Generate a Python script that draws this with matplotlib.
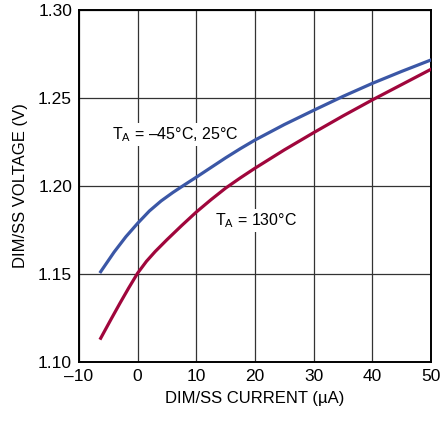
import matplotlib
matplotlib.use('Agg')
import matplotlib.pyplot as plt

plt.rcParams['font.family'] = ['Liberation Sans', 'DejaVu Sans']
plt.rcParams['mathtext.fontset'] = 'custom'
plt.rcParams['mathtext.rm'] = 'Liberation Sans'

# ток DIM/SS (мкА) и напряжение (В), T = -45/25 и 130 градусов
current_cold = [-6.3, -4, -2, 0, 2, 4, 6, 8, 10, 12.5, 15, 17.5, 20, 25, 30, 35, 40, 45, 50]
voltage_cold = [1.1513, 1.1625, 1.1712, 1.1788, 1.1858, 1.1915, 1.1963, 1.2007, 1.2050,
                1.2105, 1.2160, 1.2212, 1.2261, 1.2349, 1.2430, 1.2509, 1.2583, 1.2651, 1.2716]

current_hot = [-6.3, -4.5, -3, -1.5, 0, 1.5, 3, 5, 7.5, 10, 12.5, 15, 17.5, 20,
               25, 30, 35, 40, 45, 50]
voltage_hot = [1.1135, 1.1245, 1.1335, 1.1422, 1.1505, 1.1572, 1.1628, 1.1695, 1.1775,
               1.1852, 1.1922, 1.1988, 1.2046, 1.2101, 1.2205, 1.2303, 1.2398, 1.2489,
               1.2576, 1.2663]

xticks = [-10, 0, 10, 20, 30, 40, 50]
xtick_labels = ['\u201310', '0', '10', '20', '30', '40', '50']
yticks = [1.10, 1.15, 1.20, 1.25, 1.30]

fig = plt.figure(figsize=(4.42, 4.23), dpi=100)
ax = fig.add_axes([0.1787, 0.1442, 0.7963, 0.8322])

ax.plot(current_cold, voltage_cold, color='#3b57a6', lw=2.3, zorder=3)
ax.plot(current_hot, voltage_hot, color='#a0063c', lw=2.3, zorder=3)

ax.set_xlim(-10, 50)
ax.set_ylim(1.10, 1.30)
ax.set_xticks(xticks)
ax.set_xticklabels(xtick_labels)
ax.set_yticks(yticks)
ax.set_yticklabels([f'{v:.2f}' for v in yticks])
ax.tick_params(length=0, labelsize=12.5, pad=5)
ax.grid(True, color='#333333', lw=0.9, zorder=1)
ax.set_axisbelow(True)
for s in ax.spines.values():
    s.set_linewidth(1.4)

ax.set_xlabel('DIM/SS CURRENT (\u00b5A)', fontsize=12, labelpad=5)
ax.set_ylabel('DIM/SS VOLTAGE (V)', fontsize=12, labelpad=7)

box = dict(facecolor='white', edgecolor='none', pad=1.5)
ax.text(-4.3, 1.2265, 'T$_\\mathregular{A}$ = \u201345\u00b0C, 25\u00b0C', fontsize=11.5,
        va='baseline', ha='left', bbox=box, zorder=2)
ax.text(13.2, 1.1778, 'T$_\\mathregular{A}$ = 130\u00b0C', fontsize=11.5,
        va='baseline', ha='left', bbox=box, zorder=2)

fig.savefig('out.png', dpi=100)
